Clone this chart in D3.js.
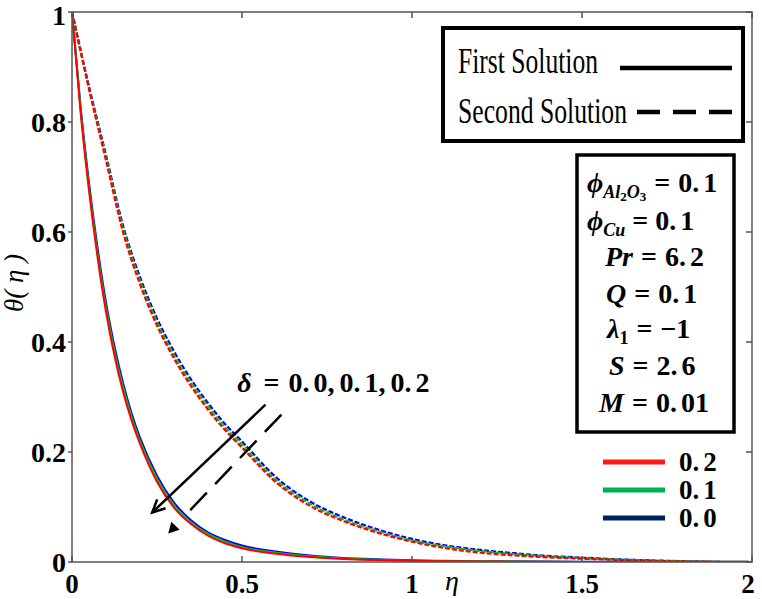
<!DOCTYPE html>
<html>
<head>
<meta charset="utf-8">
<script src="https://cdn.jsdelivr.net/npm/d3@7/dist/d3.min.js"></script>
<style>
  body { margin: 0; background: #fff; }
  svg { display: block; }
</style>
</head>
<body>
<div id="chart"></div>
<script>
// first solution (solid)
const etaFirst = [0, 0.025, 0.05, 0.075, 0.1, 0.125, 0.15, 0.175, 0.2, 0.25, 0.3, 0.35, 0.4, 0.45, 0.5, 0.6, 0.7, 0.8, 0.9, 1.0, 1.2, 1.5, 2.0]
const firstD02 = [1, 0.82, 0.675, 0.555, 0.455, 0.375, 0.31, 0.258, 0.215, 0.146, 0.099, 0.069, 0.048, 0.034, 0.025, 0.015, 0.009, 0.0055, 0.0035, 0.002, 0.001, 0, 0]
const firstD01 = [1, 0.825, 0.682, 0.563, 0.463, 0.383, 0.318, 0.264, 0.22, 0.151, 0.103, 0.072, 0.051, 0.037, 0.027, 0.017, 0.0105, 0.0065, 0.004, 0.0025, 0.0012, 0.0002, 0]
const firstD00 = [1, 0.83, 0.69, 0.572, 0.472, 0.392, 0.326, 0.271, 0.226, 0.157, 0.108, 0.076, 0.054, 0.04, 0.03, 0.019, 0.012, 0.0075, 0.005, 0.003, 0.0015, 0.0005, 0]

// second solution (dashed)
const etaSecond = [0, 0.05, 0.1, 0.15, 0.2, 0.25, 0.3, 0.35, 0.4, 0.45, 0.5, 0.6, 0.7, 0.8, 0.9, 1.0, 1.1, 1.2, 1.3, 1.4, 1.5, 1.6, 1.7, 1.8, 2.0]
const secondD02 = [1, 0.86, 0.73, 0.6, 0.505, 0.43, 0.37, 0.32, 0.277, 0.24, 0.208, 0.145, 0.102, 0.074, 0.053, 0.037, 0.025, 0.017, 0.012, 0.0085, 0.006, 0.004, 0.002, 0.001, 0]
const secondD01 = [1, 0.862, 0.735, 0.606, 0.511, 0.436, 0.376, 0.326, 0.283, 0.245, 0.213, 0.149, 0.106, 0.077, 0.056, 0.039, 0.028, 0.02, 0.0145, 0.01, 0.007, 0.0045, 0.0025, 0.0012, 0]
const secondD00 = [1, 0.865, 0.74, 0.612, 0.518, 0.443, 0.383, 0.332, 0.289, 0.251, 0.219, 0.154, 0.11, 0.081, 0.059, 0.042, 0.03, 0.022, 0.016, 0.011, 0.008, 0.005, 0.003, 0.0015, 0]

const deltaLabels = ["0.2", "0.1", "0.0"]
const xTicks = [0, 0.5, 1, 1.5, 2]
const xTickLabels = ["0", "0.5", "1", "1.5", "2"]
const yTicks = [0, 0.2, 0.4, 0.6, 0.8, 1]
const yTickLabels = ["0", "0.2", "0.4", "0.6", "0.8", "1"]

// arrow ends in data units [eta, theta]
const solidArrow = [[0.569, 0.286], [0.236, 0.09]]
const dashedArrow = [[0.616, 0.268], [0.324, 0.079]]
const dashedTip = [0.283, 0.052]

const WIDTH = 762
const HEIGHT = 599
const M = { left: 72, right: 10, top: 12, bottom: 37 }

const svg = d3.select("#chart")
  .append("svg")
  .attr("width", WIDTH)
  .attr("height", HEIGHT)
  .style("font-family", "'Liberation Serif', 'Times New Roman', serif")

const x = d3.scaleLinear().domain([0, 2]).range([M.left, WIDTH - M.right])
const y = d3.scaleLinear().domain([0, 1]).range([HEIGHT - M.bottom, M.top])

const curveColors = ["#ff0000", "#00cc00", "#0000ff"]
const legendColors = ["#ff1a1a", "#00b050", "#002060"]

// clip so curves stay in the frame
svg.append("clipPath").attr("id", "clip")
  .append("rect")
  .attr("x", x(0)).attr("y", y(1) - 2)
  .attr("width", x(2) - x(0)).attr("height", y(0) - y(1) + 2)

const line = (etas) => d3.line()
  .x((d, i) => x(etas[i]))
  .y((d) => y(d))
  .curve(d3.curveMonotoneX)

const plotArea = svg.append("g").attr("clip-path", "url(#clip)")

// dashed, blue first so red sits on top
const second = [secondD00, secondD01, secondD02]
second.forEach((vals, k) => {
  plotArea.append("path")
    .attr("d", line(etaSecond)(vals))
    .attr("fill", "none")
    .attr("stroke", curveColors[2 - k])
    .attr("stroke-width", 2.2)
    .attr("stroke-dasharray", "5,2")
})

const first = [firstD00, firstD01, firstD02]
first.forEach((vals, k) => {
  plotArea.append("path")
    .attr("d", line(etaFirst)(vals))
    .attr("fill", "none")
    .attr("stroke", curveColors[2 - k])
    .attr("stroke-width", 2)
})

// frame
const frame = svg.append("g").attr("stroke", "#555").attr("stroke-width", 1.5)
frame.append("rect")
  .attr("x", x(0)).attr("y", y(1))
  .attr("width", x(2) - x(0)).attr("height", y(0) - y(1))
  .attr("fill", "none")

// ticks: left outward, others inward
yTicks.forEach((t) => {
  frame.append("line").attr("x1", x(0) - 4).attr("x2", x(0)).attr("y1", y(t)).attr("y2", y(t))
  frame.append("line").attr("x1", x(2) - 6).attr("x2", x(2)).attr("y1", y(t)).attr("y2", y(t))
})
xTicks.forEach((t) => {
  frame.append("line").attr("x1", x(t)).attr("x2", x(t)).attr("y1", y(0)).attr("y2", y(0) - 6)
  frame.append("line").attr("x1", x(t)).attr("x2", x(t)).attr("y1", y(1)).attr("y2", y(1) + 6)
})

// tick labels
svg.selectAll(".ylab")
  .data(yTicks)
  .enter()
  .append("text")
  .attr("class", "ylab")
  .attr("x", x(0) - 6)
  .attr("y", (d) => y(d) + (d === 1 ? 13 : 10))
  .attr("text-anchor", "end")
  .attr("font-weight", "bold")
  .attr("font-size", 28)
  .text((d, i) => yTickLabels[i])

svg.selectAll(".xlab")
  .data(xTicks)
  .enter()
  .append("text")
  .attr("class", "xlab")
  .attr("x", (d) => x(d) - (d === 2 ? 4 : 0))
  .attr("y", 593)
  .attr("text-anchor", "middle")
  .attr("font-weight", "bold")
  .attr("font-size", 27)
  .text((d, i) => xTickLabels[i])

// axis titles
svg.append("text")
  .attr("x", 452).attr("y", 590)
  .attr("text-anchor", "middle")
  .attr("font-style", "italic")
  .attr("font-size", 28)
  .text("η")

svg.append("text")
  .attr("transform", "translate(23,283) rotate(-90)")
  .attr("text-anchor", "middle")
  .attr("font-style", "italic")
  .attr("font-size", 27)
  .text("θ( η )")

// solution-type legend
const leg1 = svg.append("g")
leg1.append("rect")
  .attr("x", 443).attr("y", 28).attr("width", 300).attr("height", 113)
  .attr("fill", "#fff").attr("stroke", "#000").attr("stroke-width", 4)
leg1.append("text")
  .attr("x", 458).attr("y", 73)
  .attr("font-size", 36)
  .attr("textLength", 140).attr("lengthAdjust", "spacingAndGlyphs")
  .text("First Solution")
leg1.append("text")
  .attr("x", 458).attr("y", 123)
  .attr("font-size", 36)
  .attr("textLength", 169).attr("lengthAdjust", "spacingAndGlyphs")
  .text("Second Solution")
leg1.append("line")
  .attr("x1", 620).attr("x2", 732).attr("y1", 68).attr("y2", 68)
  .attr("stroke", "#000").attr("stroke-width", 4.5)
leg1.append("line")
  .attr("x1", 637).attr("x2", 733).attr("y1", 112).attr("y2", 112)
  .attr("stroke", "#000").attr("stroke-width", 4.5)
  .attr("stroke-dasharray", "23,13")

// parameter box
const leg2 = svg.append("g")
  .attr("font-weight", "bold")
  .attr("font-size", 28)
leg2.append("rect")
  .attr("x", 577).attr("y", 155).attr("width", 157).attr("height", 277)
  .attr("fill", "#fff").attr("stroke", "#000").attr("stroke-width", 3.5)

// number with the small gap after the decimal point, as in the figure
const addNum = (t, txt, lead) => {
  const parts = txt.split(".")
  const first = t.append("tspan").text(parts.length === 1 ? txt : parts[0] + ".")
  if (lead) first.attr("dx", lead)
  if (parts.length > 1) t.append("tspan").attr("dx", 4).text(parts[1])
}

const p1 = leg2.append("text").attr("x", 587).attr("y", 192)
p1.append("tspan").attr("font-style", "italic").text("ϕ")
p1.append("tspan").attr("font-style", "italic").attr("font-size", 18).attr("dy", 6).text("Al")
p1.append("tspan").attr("font-size", 13).attr("dy", 3).text("2")
p1.append("tspan").attr("font-style", "italic").attr("font-size", 18).attr("dy", -3).text("O")
p1.append("tspan").attr("font-size", 13).attr("dy", 3).text("3")
p1.append("tspan").attr("dy", -9).attr("dx", 8).text("=")
addNum(p1, "0.1", 8)

const p2 = leg2.append("text").attr("x", 587).attr("y", 230)
p2.append("tspan").attr("font-style", "italic").text("ϕ")
p2.append("tspan").attr("font-style", "italic").attr("font-size", 18).attr("dy", 6).text("Cu")
p2.append("tspan").attr("dy", -6).attr("dx", 7).text("=")
addNum(p2, "0.1", 7)

const simpleParams = [
  { v: "Pr", rest: "6.2", x: 605, y: 266 },
  { v: "Q", rest: "0.1", x: 606, y: 303 },
  { v: "S", rest: "2.6", x: 609, y: 375 },
  { v: "M", rest: "0.01", x: 599, y: 412 }
]
simpleParams.forEach((p) => {
  const t = leg2.append("text").attr("x", p.x).attr("y", p.y)
  t.append("tspan").attr("font-style", "italic").text(p.v)
  t.append("tspan").attr("dx", 8).text("=")
  addNum(t, p.rest, 8)
})
const p5 = leg2.append("text").attr("x", 607).attr("y", 338)
p5.append("tspan").attr("font-style", "italic").text("λ")
p5.append("tspan").attr("font-size", 18).attr("dy", 6).text("1")
p5.append("tspan").attr("dy", -6).attr("dx", 8).text("=")
p5.append("tspan").attr("dx", 8).text("−1")

// delta colour legend
deltaLabels.forEach((lab, i) => {
  const yy = 462 + i * 28
  svg.append("line")
    .attr("x1", 603).attr("x2", 665).attr("y1", yy).attr("y2", yy)
    .attr("stroke", legendColors[i]).attr("stroke-width", 5)
  const t = svg.append("text")
    .attr("x", 679).attr("y", yy + 9)
    .attr("font-weight", "bold").attr("font-size", 27)
  addNum(t, lab)
})

// delta annotation
const dl = svg.append("text")
  .attr("x", x(0.486)).attr("y", y(0.31))
  .attr("font-weight", "bold").attr("font-size", 28)
dl.append("tspan").attr("font-style", "italic").text("δ")
dl.append("tspan").attr("dx", 12).text("=")
addNum(dl, "0.0,", 9)
addNum(dl, "0.1,", 5)
addNum(dl, "0.2", 5)

// solid arrow with open head
const sa0 = [x(solidArrow[0][0]), y(solidArrow[0][1])]
const sa1 = [x(solidArrow[1][0]), y(solidArrow[1][1])]
svg.append("line")
  .attr("x1", sa0[0]).attr("y1", sa0[1]).attr("x2", sa1[0]).attr("y2", sa1[1])
  .attr("stroke", "#000").attr("stroke-width", 2.5)
const ang = Math.atan2(sa1[1] - sa0[1], sa1[0] - sa0[0])
const head = [ang + Math.PI - 0.45, ang + Math.PI + 0.45].map((a) => [sa1[0] + 14 * Math.cos(a), sa1[1] + 14 * Math.sin(a)])
svg.append("path")
  .attr("d", d3.line()([head[0], sa1, head[1]]))
  .attr("fill", "none").attr("stroke", "#000").attr("stroke-width", 2.5)

// dashed arrow with filled head
const da0 = [x(dashedArrow[0][0]), y(dashedArrow[0][1])]
const da1 = [x(dashedArrow[1][0]), y(dashedArrow[1][1])]
svg.append("line")
  .attr("x1", da0[0]).attr("y1", da0[1]).attr("x2", da1[0]).attr("y2", da1[1])
  .attr("stroke", "#000").attr("stroke-width", 2.5)
  .attr("stroke-dasharray", "24,12")
const tip = [x(dashedTip[0]), y(dashedTip[1])]
const ang2 = Math.atan2(da1[1] - da0[1], da1[0] - da0[0])
const tri = [ang2 + Math.PI - 0.5, ang2 + Math.PI + 0.5].map((a) => [tip[0] + 12 * Math.cos(a), tip[1] + 12 * Math.sin(a)])
svg.append("path")
  .attr("d", d3.line()([tri[0], tip, tri[1]]) + "Z")
  .attr("fill", "#000")
</script>
</body>
</html>
